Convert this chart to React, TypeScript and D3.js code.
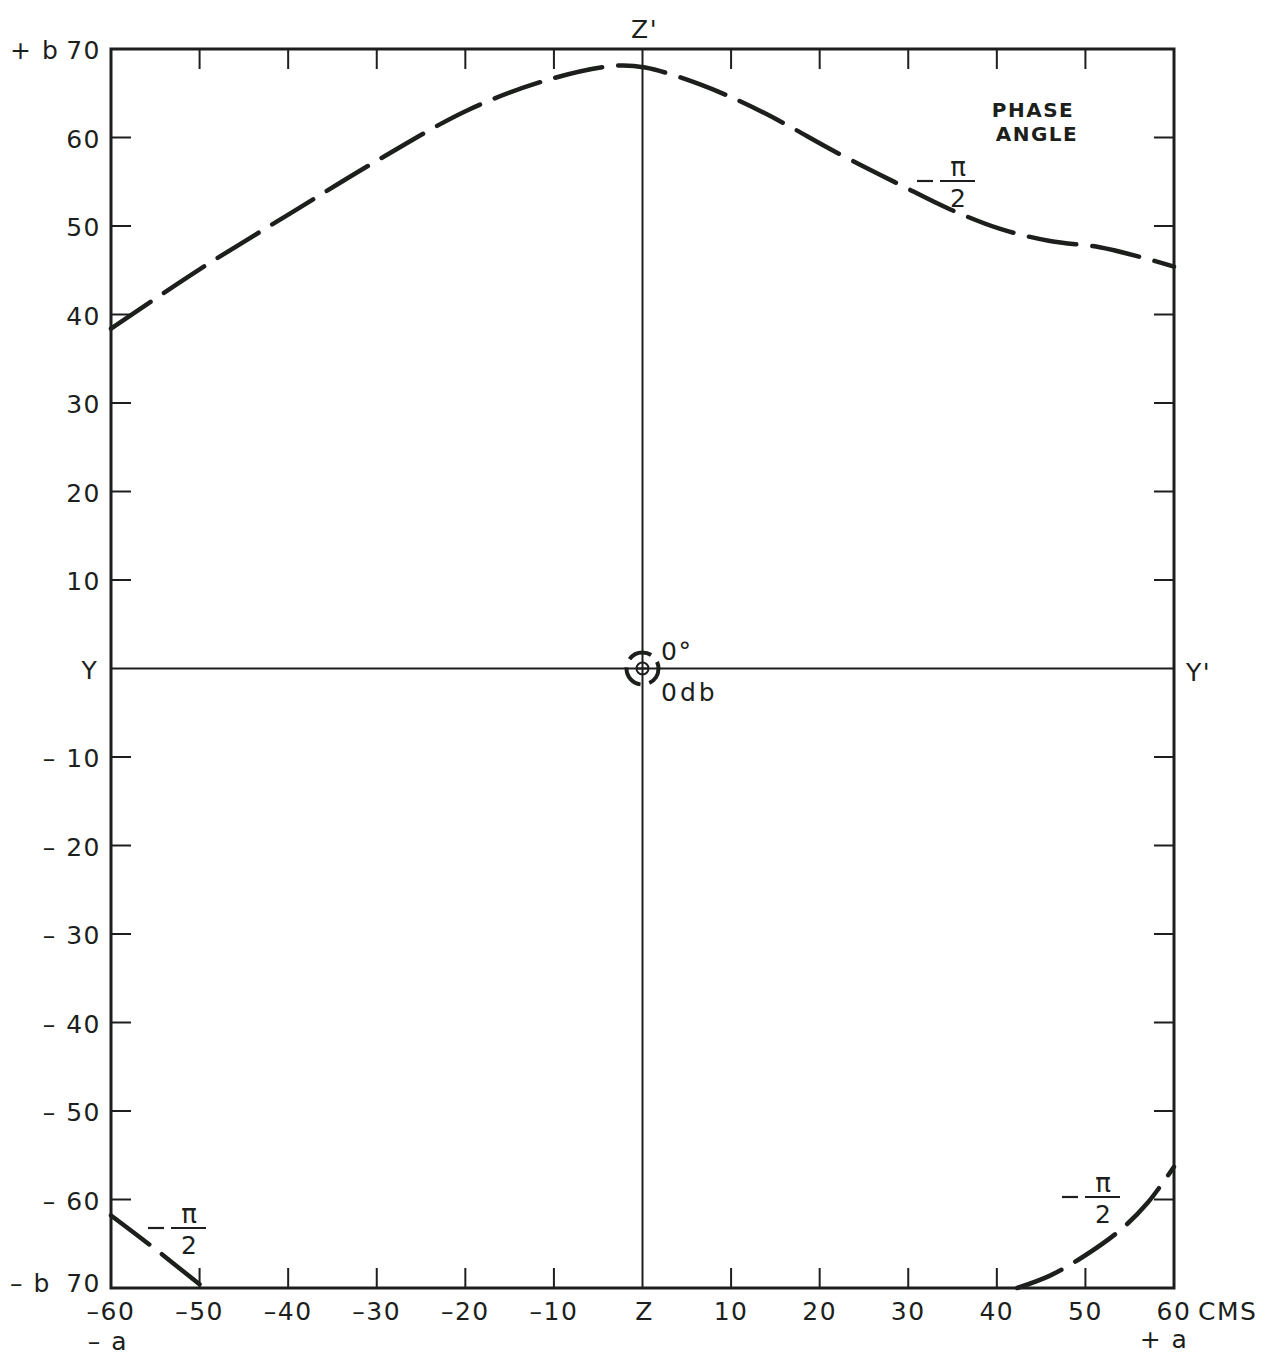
import React from "react";
import * as d3 from "d3";

const xTicks = [-60, -50, -40, -30, -20, -10, 0, 10, 20, 30, 40, 50, 60];
const xTickLabels = ["–60", "–50", "–40", "–30", "–20", "–10", "Z", "10", "20", "30", "40", "50", "60"];
const yTicks = [70, 60, 50, 40, 30, 20, 10, 0, -10, -20, -30, -40, -50, -60, -70];
const yTickLabels = ["70", "60", "50", "40", "30", "20", "10", "Y", "– 10", "– 20", "– 30", "– 40", "– 50", "– 60", "70"];

// phase angle -pi/2 contour (upper branch)
const upperX = [-60, -50, -39.8, -29.6, -19.5, -10.4, -3.1, 0.3, 6.5, 13.3, 22.3, 29, 34.7, 40.3, 46, 51.6, 56.2, 60];
const upperY = [38.4, 45.1, 51.4, 57.6, 63.2, 66.6, 68.1, 67.9, 66, 63, 58.1, 54.7, 51.9, 49.7, 48.3, 47.6, 46.5, 45.4];
// lower-left branch
const lowLeftX = [-60, -55, -49.5];
const lowLeftY = [-61.8, -65.6, -70];
// lower-right branch
const lowRightX = [42.3, 46, 50, 54, 57, 60];
const lowRightY = [-70, -68.6, -66.3, -63.4, -60.4, -56.3];

const W = 1282;
const H = 1355;
const INK = "#1c1f1c";
const FONT = "'DejaVu Sans', 'Liberation Sans', Arial, sans-serif";

export default function App() {
  const x = d3.scaleLinear().domain([-60, 60]).range([111, 1174]);
  const y = d3.scaleLinear().domain([-70, 70]).range([1288, 49]);
  const line = d3
    .line<[number, number]>()
    .x((d) => x(d[0]))
    .y((d) => y(d[1]))
    .curve(d3.curveCatmullRom.alpha(0.5));
  const zip = (a: number[], b: number[]) => a.map((v, i) => [v, b[i]] as [number, number]);

  const left = x(-60), right = x(60), top = y(70), bottom = y(-70);
  const cx = x(0), cy = y(0);
  const tickLen = 20;

  const frac = (px: number, py: number, key: string) => (
    <g key={key} fontFamily={FONT} fill={INK}>
      <line x1={px - 40} x2={px - 24} y1={py} y2={py} stroke={INK} strokeWidth={2.2} />
      <line x1={px - 17} x2={px + 18} y1={py} y2={py} stroke={INK} strokeWidth={2.2} />
      <text x={px + 1} y={py - 5} fontSize={26} textAnchor="middle">π</text>
      <text x={px + 1} y={py + 26} fontSize={25} textAnchor="middle">2</text>
    </g>
  );

  return (
    <svg width={W} height={H} style={{ position: "absolute", left: 0, top: 0, background: "#fff" }}>
      <rect x={0} y={0} width={W} height={H} fill="#fff" />
      <g stroke={INK} fill="none">
        <rect x={left} y={top} width={right - left} height={bottom - top} strokeWidth={3} />
        <line x1={cx} x2={cx} y1={top} y2={bottom} strokeWidth={2} />
        <line x1={left} x2={right} y1={cy} y2={cy} strokeWidth={2} />
        {xTicks.filter((t) => t !== -60 && t !== 60 && t !== 0).map((t) => (
          <g key={"xt" + t}>
            <line x1={x(t)} x2={x(t)} y1={top} y2={top + tickLen} strokeWidth={2} />
            <line x1={x(t)} x2={x(t)} y1={bottom} y2={bottom - tickLen} strokeWidth={2} />
          </g>
        ))}
        {yTicks.filter((t) => t !== 70 && t !== -70 && t !== 0).map((t) => (
          <g key={"yt" + t}>
            <line x1={left} x2={left + tickLen} y1={y(t)} y2={y(t)} strokeWidth={2} />
            <line x1={right} x2={right - tickLen} y1={y(t)} y2={y(t)} strokeWidth={2} />
          </g>
        ))}
      </g>

      <g stroke={INK} fill="none" strokeWidth={4.5} strokeLinecap="round" strokeDasharray="48 16">
        <path d={line(zip(upperX, upperY)) || ""} />
        <path d={line(zip(lowLeftX, lowLeftY)) || ""} />
        <path d={line(zip(lowRightX, lowRightY)) || ""} />
      </g>

      {/* origin target */}
      <g stroke={INK} fill="none">
        <circle cx={cx} cy={cy} r={6} strokeWidth={2} />
        <line x1={cx - 6} x2={cx + 6} y1={cy} y2={cy} strokeWidth={2} />
        <circle cx={cx} cy={cy} r={16} strokeWidth={4} strokeDasharray="24 9" strokeDashoffset={6} />
      </g>

      <g fontFamily={FONT} fill={INK} fontSize={25} letterSpacing={1.5}>
        {yTicks.map((t, i) => (
          <text key={"yl" + t} x={t === 0 ? 90 : 101} y={y(t) + (t === -70 ? 4 : 10)} textAnchor={t === 0 ? "middle" : "end"}>
            {yTickLabels[i]}
          </text>
        ))}
        <text x={10} y={y(70) + 10}>+ b</text>
        <text x={10} y={y(-70) + 4}>– b</text>
        {xTicks.map((t, i) => (
          <text key={"xl" + t} x={x(t) + (t === 0 ? 2 : 0)} y={1320} textAnchor="middle">
            {xTickLabels[i]}
          </text>
        ))}
        <text x={1198} y={1320}>CMS</text>
        <text x={108} y={1350} textAnchor="middle">– a</text>
        <text x={1164} y={1348} textAnchor="middle">+ a</text>
        <text x={cx + 2} y={38} textAnchor="middle">Z'</text>
        <text x={1186} y={681}>Y'</text>
        <text x={661} y={660} fontSize={25}>0°</text>
        <text x={661} y={701} fontSize={25} letterSpacing={3}>0db</text>
      </g>

      <g fontFamily={FONT} fill={INK} fontSize={20} fontWeight="bold" letterSpacing={1.5} textAnchor="middle">
        <text x={1033} y={117}>PHASE</text>
        <text x={1037} y={141}>ANGLE</text>
      </g>

      {frac(957, 181, "f1")}
      {frac(188, 1228, "f2")}
      {frac(1102, 1197, "f3")}
    </svg>
  );
}
